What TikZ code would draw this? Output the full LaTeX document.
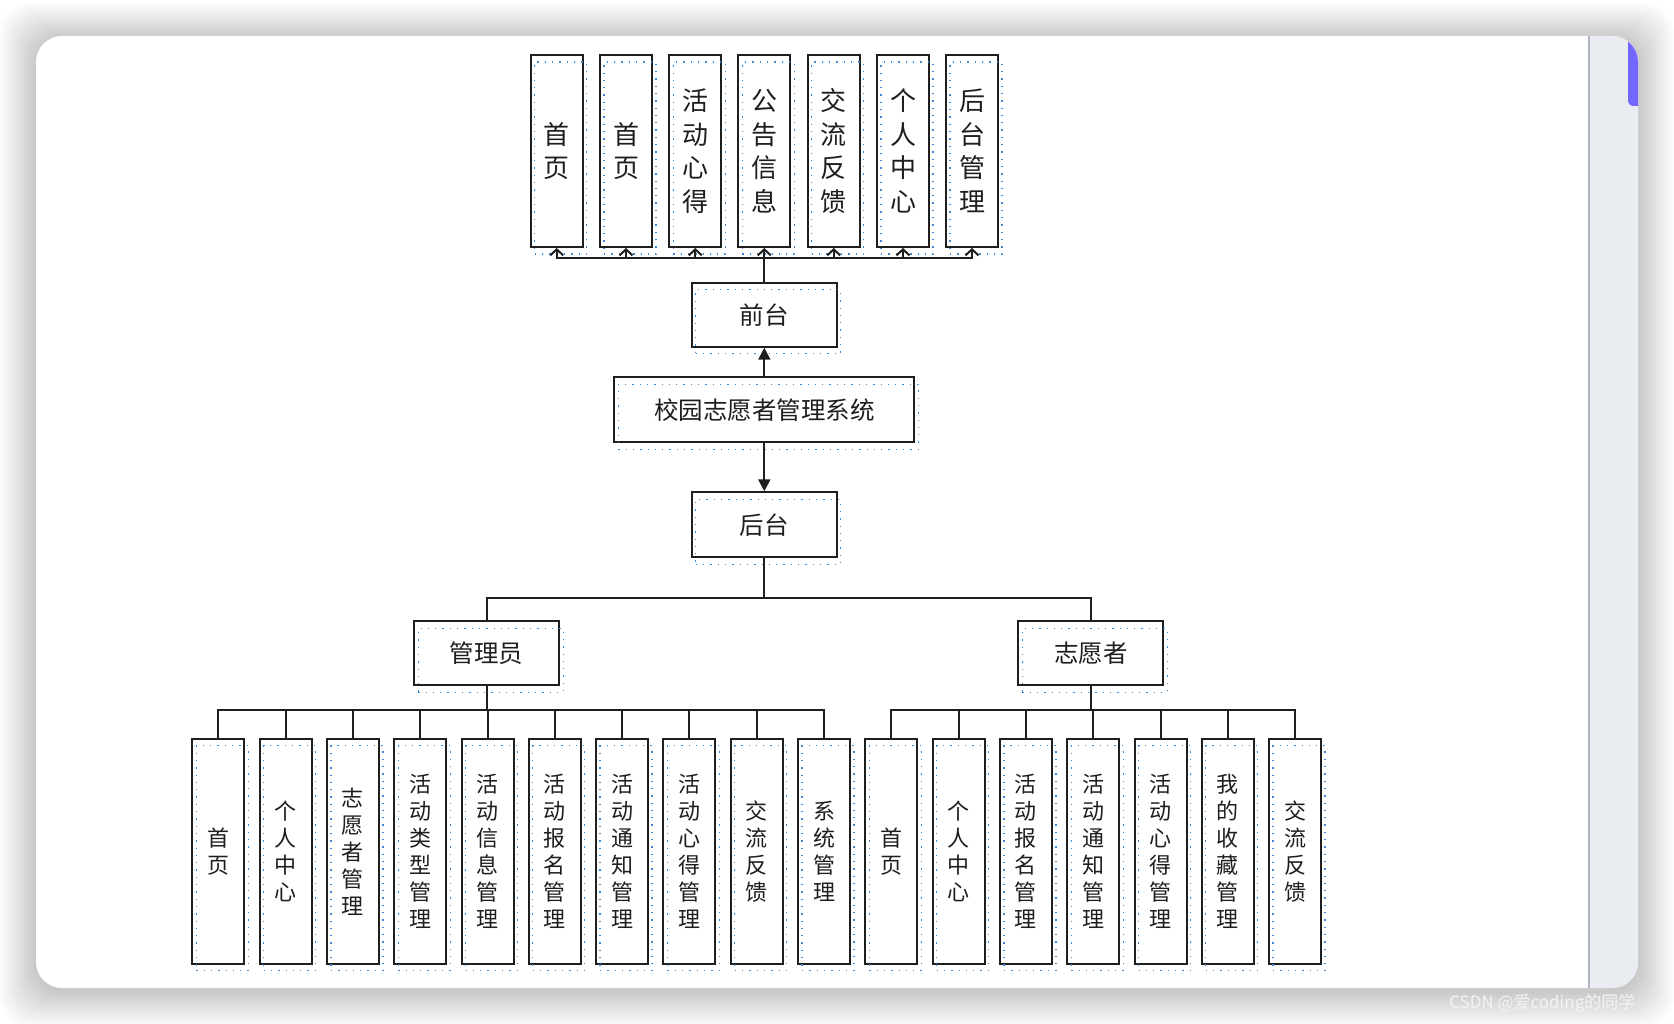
\documentclass[tikz,border=0pt]{standalone}
\usepackage{fontspec}
\newfontfamily\cjk{Noto Sans CJK SC}
\usetikzlibrary{arrows.meta}
\definecolor{inkc}{HTML}{1E1E1E}
\definecolor{dotc}{HTML}{3C86D8}
\definecolor{stripc}{HTML}{E9EDF1}
\definecolor{stripl}{HTML}{AEB2C4}
\definecolor{scrollc}{HTML}{7268FF}
\definecolor{markc}{HTML}{F3F3F3}

\begin{document}
\begin{tikzpicture}[x=1pt, y=-1pt]

\tikzstyle{every node} = [rectangle, inner sep=0pt, text=inkc]
\tikzstyle{box} = [draw=inkc, line width=2pt, postaction={draw=dotc, line width=1.3pt, dash pattern=on 1.3pt off 6pt, transform canvas={shift={(4pt,-7pt)}}}]
\tikzstyle{tall} = [box, minimum width=52pt, minimum height=192pt, align=center, font=\cjk\fontsize{26}{33.5}\selectfont]
\tikzstyle{low} = [box, minimum width=52pt, minimum height=225pt, align=center, font=\cjk\fontsize{22}{27}\selectfont]
\tikzstyle{mid} = [box, minimum width=145pt, minimum height=64pt, font=\cjk\fontsize{24.5}{30}\selectfont]
\tikzstyle{link} = [draw=inkc, line width=2pt]
\tikzstyle{up} = [link, -{Straight Barb[length=6pt,width=13pt]}]
\tikzstyle{tip} = [link, -{Triangle[length=12pt,width=12pt]}]

\useasboundingbox (0,0) rectangle (1674,1024);
\fill[white] (0,0) rectangle (1674,1024);

% window card and its shadow
\foreach \r in {2,4,...,36}
  \fill[black, opacity=0.013, rounded corners=30pt] (36-\r,39-\r) rectangle (1638+\r,991+\r);
\fill[white, rounded corners=26pt] (36,36) rectangle (1638,988);
\begin{scope}
\clip[rounded corners=26pt] (36,36) rectangle (1638,988);
\fill[stripc] (1588,36) rectangle (1638,988);
\draw[stripl, line width=2.3pt] (1589,36) -- (1589,988);
\fill[scrollc, rounded corners=5pt] (1628,30) rectangle (1648,106);
\end{scope}
\node[text=markc, font=\cjk\fontsize{17}{17}\selectfont, anchor=west] (wm) at (1449,1003) {CSDN @爱coding的同学};

% front pages
\node[tall] (f1) at (556.7,151) {首\\页};
\node[tall] (f2) at (626,151) {首\\页};
\node[tall] (f3) at (695.3,151) {活\\动\\心\\得};
\node[tall] (f4) at (764.3,151) {公\\告\\信\\息};
\node[tall] (f5) at (833.7,151) {交\\流\\反\\馈};
\node[tall] (f6) at (903,151) {个\\人\\中\\心};
\node[tall] (f7) at (972,151) {后\\台\\管\\理};

\node[mid] (qt) at (764.3,314.7) {前台};
\node[mid, minimum width=300pt, minimum height=65pt] (xt) at (764.3,409.8) {校园志愿者管理系统};
\node[mid, minimum height=65pt] (ht) at (764.3,524.8) {后台};

\node[mid] (gl) at (486.7,653.3) {管理员};
\node[mid] (zy) at (1090.8,653.3) {志愿者};

% admin pages
\node[low] (a1) at (218.3,851.3) {首\\页};
\node[low] (a2) at (285.6,851.3) {个\\人\\中\\心};
\node[low] (a3) at (352.9,851.3) {志\\愿\\者\\管\\理};
\node[low] (a4) at (420.2,851.3) {活\\动\\类\\型\\管\\理};
\node[low] (a5) at (487.5,851.3) {活\\动\\信\\息\\管\\理};
\node[low] (a6) at (554.8,851.3) {活\\动\\报\\名\\管\\理};
\node[low] (a7) at (622.1,851.3) {活\\动\\通\\知\\管\\理};
\node[low] (a8) at (689.4,851.3) {活\\动\\心\\得\\管\\理};
\node[low] (a9) at (756.7,851.3) {交\\流\\反\\馈};
\node[low] (a10) at (824,851.3) {系\\统\\管\\理};

% volunteer pages
\node[low] (v1) at (891.3,851.3) {首\\页};
\node[low] (v2) at (958.6,851.3) {个\\人\\中\\心};
\node[low] (v3) at (1025.9,851.3) {活\\动\\报\\名\\管\\理};
\node[low] (v4) at (1093.2,851.3) {活\\动\\通\\知\\管\\理};
\node[low] (v5) at (1160.5,851.3) {活\\动\\心\\得\\管\\理};
\node[low] (v6) at (1227.8,851.3) {我\\的\\收\\藏\\管\\理};
\node[low] (v7) at (1295.1,851.3) {交\\流\\反\\馈};

\draw[up] (qt.north) -- ++(0,-23.4) -| (f1.south);
\draw[up] (qt.north) -- ++(0,-23.4) -| (f2.south);
\draw[up] (qt.north) -- ++(0,-23.4) -| (f3.south);
\draw[up] (qt.north) -- ++(0,-23.4) -| (f4.south);
\draw[up] (qt.north) -- ++(0,-23.4) -| (f5.south);
\draw[up] (qt.north) -- ++(0,-23.4) -| (f6.south);
\draw[up] (qt.north) -- ++(0,-23.4) -| (f7.south);

\draw[tip] (xt.north) -- (qt.south);
\draw[tip] (xt.south) -- (ht.north);

\draw[link] (ht.south) -- ++(0,39.2) -| (gl.north);
\draw[link] (ht.south) -- ++(0,39.2) -| (zy.north);

\draw[link] (gl.south) -- ++(0,24) -| (a1.north);
\draw[link] (gl.south) -- ++(0,24) -| (a2.north);
\draw[link] (gl.south) -- ++(0,24) -| (a3.north);
\draw[link] (gl.south) -- ++(0,24) -| (a4.north);
\draw[link] (gl.south) -- ++(0,24) -| (a5.north);
\draw[link] (gl.south) -- ++(0,24) -| (a6.north);
\draw[link] (gl.south) -- ++(0,24) -| (a7.north);
\draw[link] (gl.south) -- ++(0,24) -| (a8.north);
\draw[link] (gl.south) -- ++(0,24) -| (a9.north);
\draw[link] (gl.south) -- ++(0,24) -| (a10.north);

\draw[link] (zy.south) -- ++(0,24) -| (v1.north);
\draw[link] (zy.south) -- ++(0,24) -| (v2.north);
\draw[link] (zy.south) -- ++(0,24) -| (v3.north);
\draw[link] (zy.south) -- ++(0,24) -| (v4.north);
\draw[link] (zy.south) -- ++(0,24) -| (v5.north);
\draw[link] (zy.south) -- ++(0,24) -| (v6.north);
\draw[link] (zy.south) -- ++(0,24) -| (v7.north);

\end{tikzpicture}
\end{document}
